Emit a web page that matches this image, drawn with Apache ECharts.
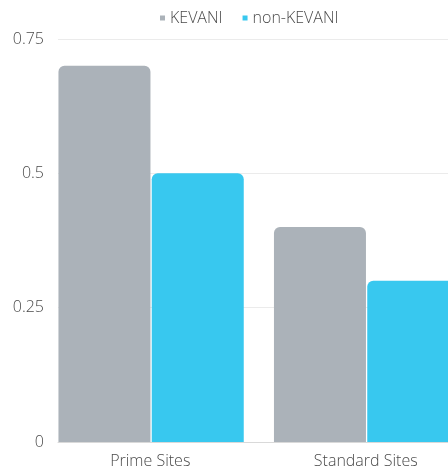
<!DOCTYPE html>
<html>
<head>
<meta charset="utf-8">
<script src="https://cdn.jsdelivr.net/npm/echarts@6/dist/echarts.min.js"></script>
<style>html,body{margin:0;padding:0;background:#fff}#c{width:448px;height:470px}</style>
</head>
<body>
<div id="c"></div>
<script>
const categories = ['Prime Sites', 'Standard Sites'];
const kevani = [0.7, 0.4];
const nonKevani = [0.5, 0.3];
const yTicks = [0, 0.25, 0.5, 0.75];

const chart = echarts.init(document.getElementById('c'), null, {renderer: 'canvas'});
const font = '"Open Sans", "Noto Sans", sans-serif';
chart.setOption({
  animation: false,
  legend: {
    data: ['KEVANI', 'non-KEVANI'],
    top: 5,
    left: 155,
    itemWidth: 5,
    itemHeight: 5,
    itemGap: 20,
    icon: 'rect',
    textStyle: {fontFamily: font, fontSize: 16, fontWeight: 300, color: '#4a4a4a'}
  },
  grid: {left: 58, right: -41, top: 39, bottom: 28, outerBoundsMode: 'none', containLabel: false},
  xAxis: {
    type: 'category',
    data: categories,
    axisTick: {show: false},
    axisLine: {lineStyle: {color: '#d9d9d9', width: 1}},
    axisLabel: {fontFamily: font, fontSize: 16, fontWeight: 300, color: '#4a4a4a', margin: 11,
                padding: [0, 31, 0, 0]}
  },
  yAxis: {
    type: 'value',
    min: 0, max: 0.75, interval: 0.25,
    axisLine: {show: false},
    axisTick: {show: false},
    splitLine: {lineStyle: {color: '#ebebeb', width: 1}},
    axisLabel: {
      fontFamily: font, fontSize: 16, fontWeight: 300, color: '#4a4a4a', margin: 14,
      formatter: function (v) { return yTicks.indexOf(v) >= 0 ? String(v) : ''; }
    }
  },
  series: [
    {name: 'KEVANI', type: 'bar', data: kevani, barWidth: 92, barGap: '1.4%',
     itemStyle: {color: '#abb2b9', borderRadius: [6, 6, 0, 0]}},
    {name: 'non-KEVANI', type: 'bar', data: nonKevani, barWidth: 92, barGap: '1.4%',
     itemStyle: {color: '#38c8ef', borderRadius: [6, 6, 0, 0]}},
    {name: 'spacer', type: 'bar', data: ['-', '-'], barWidth: 28, barGap: '1.4%',
     itemStyle: {color: 'transparent'}, silent: true}
  ]
});
</script>
</body>
</html>
